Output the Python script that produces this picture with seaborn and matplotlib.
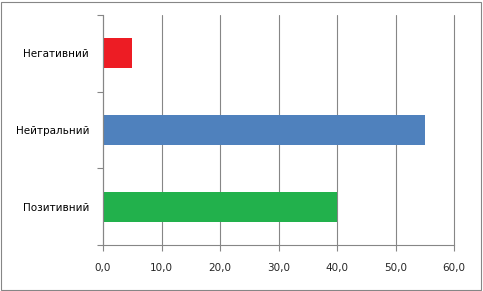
import matplotlib
matplotlib.use("Agg")
import matplotlib.pyplot as plt
import seaborn as sns
import pandas as pd
from matplotlib.ticker import FixedLocator, FuncFormatter
from matplotlib.patches import Rectangle

categories = ["Негативний", "Нейтральний", "Позитивний"]
values = [5.0, 55.0, 40.0]
colors = ["#ED1C24", "#4F81BD", "#22B14C"]
xticks = [0, 10, 20, 30, 40, 50, 60]

df = pd.DataFrame({"cat": categories, "val": values})

sns.set_style("white")
plt.rcParams['font.family'] = ['DejaVu Sans']

fig = plt.figure(figsize=(4.83, 2.91), dpi=100)
ax = fig.add_axes([103/483, 1 - 245/291, (454-103)/483, (245-15)/291])

sns.barplot(data=df, x="val", y="cat", hue="cat", palette=colors, order=categories,
            hue_order=categories, width=0.39, legend=False, ax=ax, saturation=1,
            linewidth=0)

grey = "#868686"
ax.set_xlim(0, 60)
ax.set_ylim(2.5, -0.5)
ax.set_xticks(xticks)
ax.xaxis.set_major_formatter(FuncFormatter(lambda v, p: f"{v:.1f}".replace(".", ",")))
ax.grid(axis="x", color=grey, linewidth=0.8)
ax.set_axisbelow(True)
ax.set_xlabel("")
ax.set_ylabel("")
for gl in ax.get_xgridlines():
    gl.set_clip_on(False)

ax.yaxis.set_minor_locator(FixedLocator([-0.5, 0.5, 1.5, 2.5]))
ax.tick_params(axis="y", which="major", length=0, pad=10, labelsize=7.5, colors="black")
ax.tick_params(axis="y", which="minor", length=4, color=grey, width=0.8, direction="out", left=True)
ax.tick_params(axis="x", which="major", length=4, color=grey, width=0.8, direction="out",
               bottom=True, labelsize=7.5, pad=9)

for s in ["top", "right"]:
    ax.spines[s].set_visible(False)
for s in ["left", "bottom"]:
    ax.spines[s].set_color(grey)
    ax.spines[s].set_linewidth(0.8)

fig.patches.append(Rectangle((1/483, 1/291), 480/483, 288/291, transform=fig.transFigure,
                             fill=False, edgecolor=grey, linewidth=0.8))

fig.savefig("out.png", dpi=100)
